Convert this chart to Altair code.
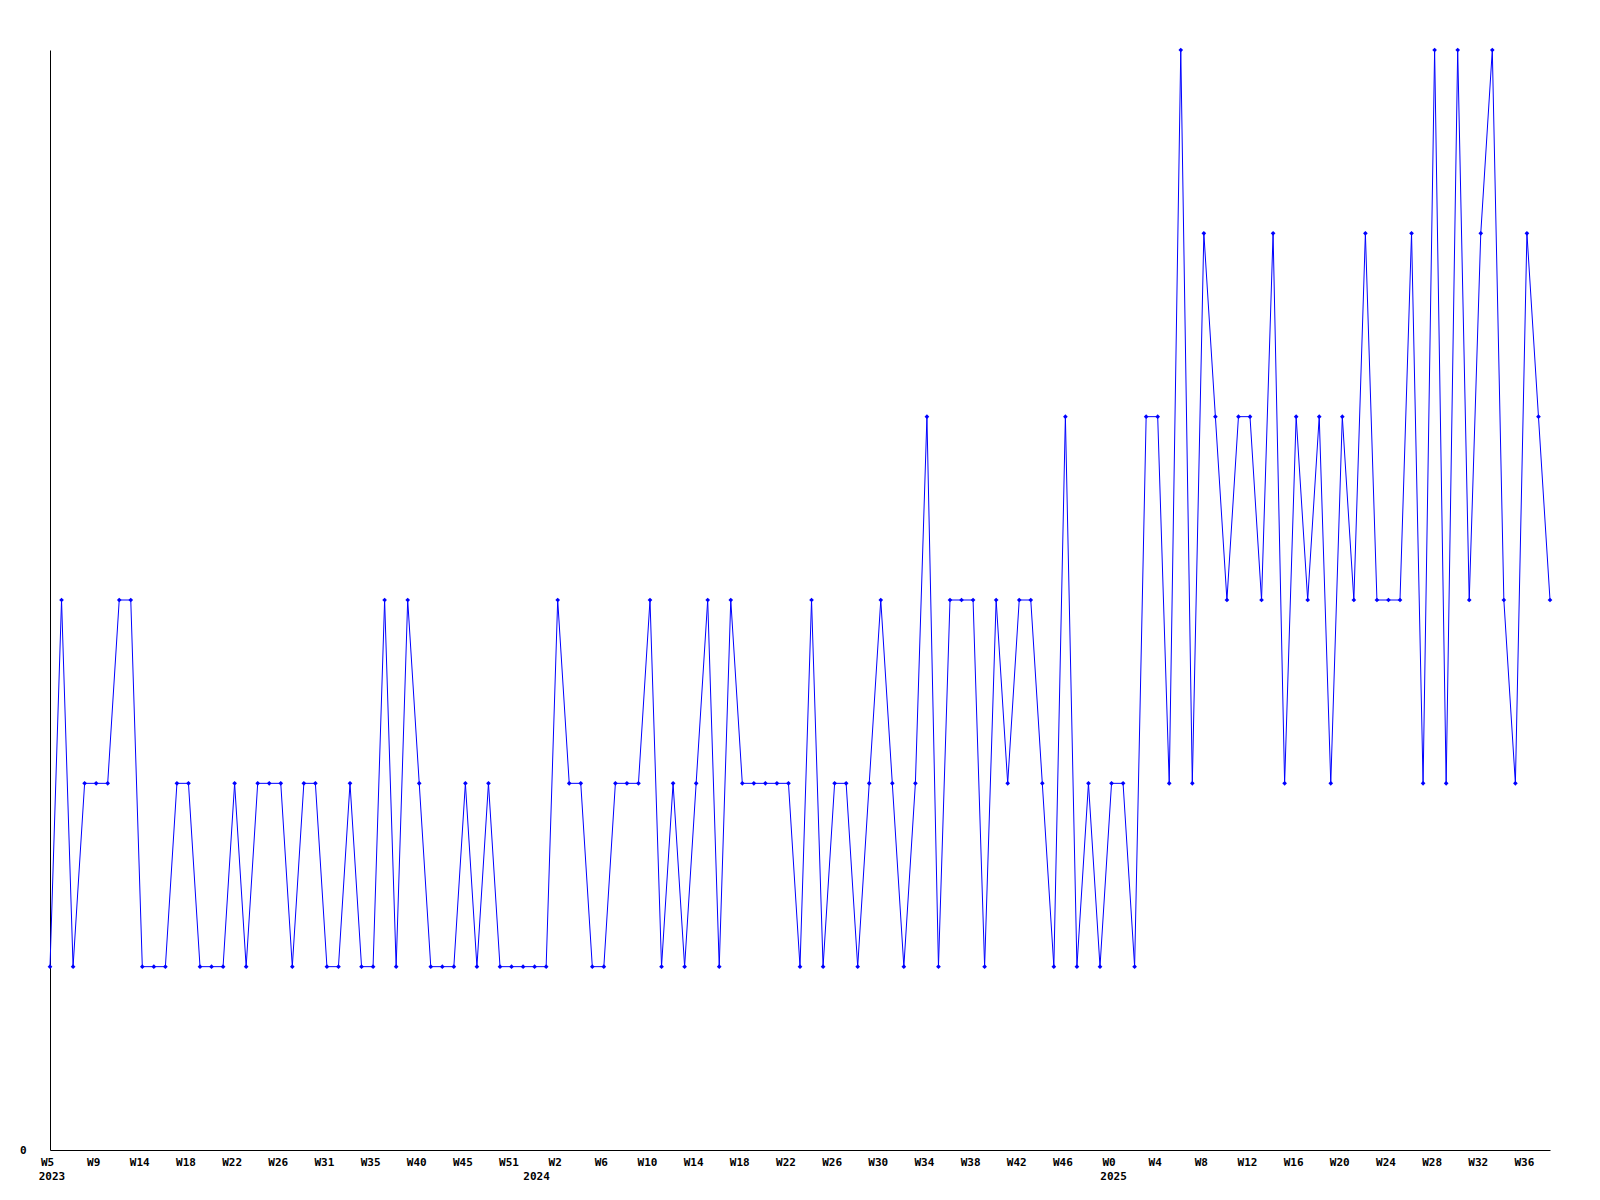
import altair as alt
import pandas as pd

# weekly values, one per category (index 0..130)
values = [
    1, 3, 1, 2, 2, 2, 3, 3, 1, 1,
    1, 2, 2, 1, 1, 1, 2, 1, 2, 2,
    2, 1, 2, 2, 1, 1, 2, 1, 1, 3,
    1, 3, 2, 1, 1, 1, 2, 1, 2, 1,
    1, 1, 1, 1, 3, 2, 2, 1, 1, 2,
    2, 2, 3, 1, 2, 1, 2, 3, 1, 3,
    2, 2, 2, 2, 2, 1, 3, 1, 2, 2,
    1, 2, 3, 2, 1, 2, 4, 1, 3, 3,
    3, 1, 3, 2, 3, 3, 2, 1, 4, 1,
    2, 1, 2, 2, 1, 4, 4, 2, 6, 2,
    5, 4, 3, 4, 4, 3, 5, 2, 4, 3,
    4, 2, 4, 3, 5, 3, 3, 3, 5, 2,
    6, 2, 6, 3, 5, 6, 3, 2, 5, 4,
    3,
]

week_labels = [
    "W5", "W9", "W14", "W18", "W22", "W26", "W31", "W35", "W40", "W45", "W51",
    "W2", "W6", "W10", "W14", "W18", "W22", "W26", "W30", "W34", "W38", "W42", "W46",
    "W0", "W4", "W8", "W12", "W16", "W20", "W24", "W28", "W32", "W36",
]
week_tick_index = list(range(0, 4 * len(week_labels), 4))

year_labels = ["2023", "2024", "2025"]
year_index = [0, 42, 92]

df = pd.DataFrame({"i": list(range(len(values))), "v": values})
years_df = pd.DataFrame({"i": year_index, "label": year_labels})

FONT = "DejaVu Sans Mono"
BLUE = "#0000ff"

label_arr = "[" + ",".join('"%s"' % w for w in week_labels) + "]"

x_axis = alt.Axis(
    values=week_tick_index,
    labelExpr=label_arr + "[round(datum.value/4)]",
    grid=False,
    ticks=False,
    tickSize=0,
    domainColor="black",
    domainWidth=1,
    labelFont=FONT,
    labelFontSize=11,
    labelFontWeight="bold",
    labelColor="black",
    labelBaseline="alphabetic",
    labelPadding=15,
    labelOffset=-3,
    labelOverlap=False,
    labelFlush=False,
    title=None,
)

x_enc = alt.X(
    "i:Q",
    scale=alt.Scale(domain=[0, len(values) - 1], nice=False, zero=False),
    axis=x_axis,
)

y_enc = alt.Y(
    "v:Q",
    scale=alt.Scale(domain=[0, 6], nice=False),
    axis=alt.Axis(
        values=[0],
        grid=False,
        ticks=False,
        tickSize=0,
        domainColor="black",
        domainWidth=1,
        labelFont=FONT,
        labelFontSize=11,
        labelFontWeight="bold",
        labelColor="black",
        labelPadding=24,
        title=None,
    ),
)

base = alt.Chart(df)

line = base.mark_line(color=BLUE, strokeWidth=1).encode(x=x_enc, y=y_enc)
points = base.mark_point(
    shape="diamond", filled=True, size=22, color=BLUE, opacity=1
).encode(x=x_enc, y=y_enc)

years = alt.Chart(years_df).mark_text(
    align="center",
    baseline="alphabetic",
    dx=2,
    font=FONT,
    fontSize=11,
    fontWeight="bold",
    color="black",
).encode(x=x_enc, y=alt.value(1130), text="label:N")

chart = (
    alt.layer(line, points, years)
    .properties(
        width=1500,
        height=1100,
        autosize=alt.AutoSizeParams(type="none"),
        padding={"left": 42, "top": 42, "right": 40, "bottom": 40},
        view=alt.ViewBackground(stroke="transparent", strokeWidth=0, strokeOpacity=0),
    )
    .configure_view(stroke="transparent", strokeWidth=0, strokeOpacity=0)
    .configure(background="white")
)

chart.save("out.html", embed_options={"renderer": "svg", "actions": False})
